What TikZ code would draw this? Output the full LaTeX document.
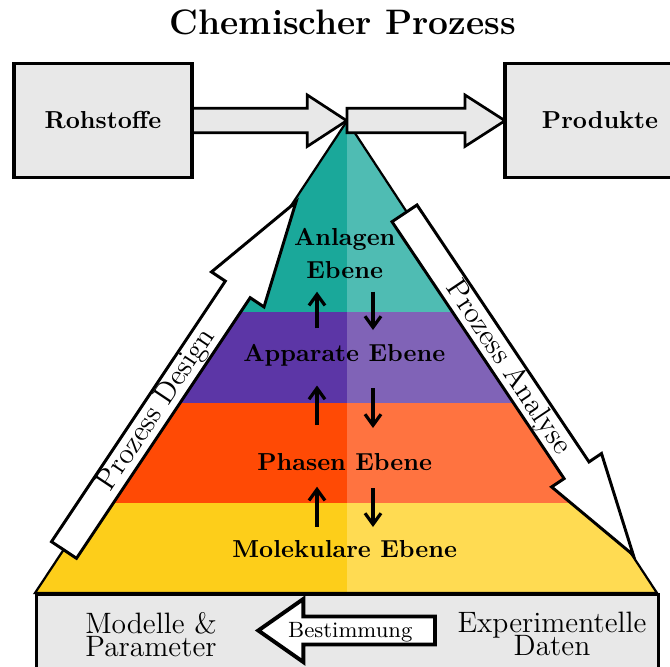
\documentclass[tikz,border=0pt]{standalone}
\usetikzlibrary{arrows.meta}
\definecolor{tealL}{HTML}{1AA89A}
\definecolor{tealR}{HTML}{4FBCB3}
\definecolor{purpL}{HTML}{5C36A6}
\definecolor{purpR}{HTML}{8063B7}
\definecolor{oranL}{HTML}{FF4A05}
\definecolor{oranR}{HTML}{FF7340}
\definecolor{yellL}{HTML}{FDCE1A}
\definecolor{yellR}{HTML}{FFDB52}
\definecolor{boxgray}{HTML}{E8E8E8}
\begin{document}
\begin{tikzpicture}[x=0.407pt,y=-0.407pt,
  boxnode/.style={draw=black, line width=1.3pt, fill=boxgray, font=\bfseries, inner sep=0pt},
  fatarrow/.style={draw=black, line width=1.1pt, fill=boxgray, line join=miter},
  sidearrow/.style={draw=black, line width=1.2pt, fill=white, line join=miter},
  lvl/.style={font=\bfseries, inner sep=0pt},
  lvlarrow/.style={line width=1.3pt, -{Straight Barb[length=4.5pt,width=6.5pt]}},
  sidelabel/.style={font=\large, inner sep=0pt},
  bottomlabel/.style={font={\fontsize{12}{9.5}\selectfont\lineskiplimit=-20pt}, align=center, inner sep=0pt},
]
\useasboundingbox (0,0) rectangle (670,666);

% title
\node[font=\Large\bfseries, inner sep=0pt] (title) at (343,22.5) {Chemischer Prozess};

% pyramid
\coordinate (apex) at (347,121);
\coordinate (bl) at (35,593);
\coordinate (br) at (657,593);
\begin{scope}
  \clip (apex) -- (bl) -- (br) -- cycle;
  \fill[tealL] (0,100) rectangle (347,312);
  \fill[tealR] (347,100) rectangle (700,312);
  \fill[purpL] (0,312) rectangle (347,403);
  \fill[purpR] (347,312) rectangle (700,403);
  \fill[oranL] (0,403) rectangle (347,503);
  \fill[oranR] (347,403) rectangle (700,503);
  \fill[yellL] (0,503) rectangle (347,600);
  \fill[yellR] (347,503) rectangle (700,600);
\end{scope}
\draw[line width=0.9pt, line join=miter] (apex) -- (bl) -- (br) -- cycle;

% side arrows
\draw[sidearrow] (51.5,541.7) -- (225.3,281.1) -- (211.5,271.9) -- (296,202)
  -- (264.0,306.9) -- (250.2,297.7) -- (76.5,558.3) -- cycle;
\draw[sidearrow] (392.0,221.7) -- (564.1,478.6) -- (551.6,486.9) -- (633.3,555)
  -- (601.5,453.5) -- (589.0,461.9) -- (417.0,205.0) -- cycle;
\node[sidelabel, rotate=56.3] (design) at (157.3,410) {Prozess Design};
\node[sidelabel, rotate=-56.2] (analyse) at (508,368) {Prozess Analyse};

% top arrows
\draw[fatarrow] (192,108.3) -- (307.3,108.3) -- (307.3,95) -- (346.7,120.7)
  -- (307.3,146.4) -- (307.3,132.7) -- (192,132.7) -- cycle;
\draw[fatarrow] (347,108.3) -- (465,108.3) -- (465,95) -- (505,120.7)
  -- (465,146.4) -- (465,132.7) -- (347,132.7) -- cycle;

% boxes
\node[boxnode, minimum width=72.4pt, minimum height=46.6pt] (roh) at (103,120.5) {Rohstoffe};
\node[boxnode, minimum width=77.3pt, minimum height=46.6pt] (prod) at (600,120.5) {Produkte};

% level labels
\node[lvl, align=center] (anlagen) at (344.7,253.5) {Anlagen\\[1.8pt]Ebene};
\node[lvl] (apparate) at (344.3,355.6) {Apparate Ebene};
\node[lvl] (phasen) at (344.7,462.2) {Phasen Ebene};
\node[lvl] (molekular) at (344.7,549.2) {Molekulare Ebene};

% level arrows
\coordinate (u1s) at (317,328.3); \coordinate (u1e) at (317,291.7);
\coordinate (u2s) at (317,425);   \coordinate (u2e) at (317,385.5);
\coordinate (u3s) at (317,526.7); \coordinate (u3e) at (317,486.7);
\coordinate (d1s) at (373,291.7); \coordinate (d1e) at (373,330);
\coordinate (d2s) at (373,388);   \coordinate (d2e) at (373,428);
\coordinate (d3s) at (373,488);   \coordinate (d3e) at (373,527);
\draw[lvlarrow] (u1s) -- (u1e);
\draw[lvlarrow] (u2s) -- (u2e);
\draw[lvlarrow] (u3s) -- (u3e);
\draw[lvlarrow] (d1s) -- (d1e);
\draw[lvlarrow] (d2s) -- (d2e);
\draw[lvlarrow] (d3s) -- (d3e);

% bottom box
\node[draw=black, line width=1.1pt, fill=boxgray, inner sep=0pt, anchor=north west,
  minimum width=253.2pt, minimum height=45pt] (basis) at (35,593) {};
\draw[draw=black, line width=1.6pt, fill=white, line join=miter]
  (435,616.5) -- (303.3,616.5) -- (303.3,599) -- (258.3,630.5) -- (303.3,662)
  -- (303.3,644.5) -- (435,644.5) -- cycle;
\node[font=\small, inner sep=0pt] (bestimmung) at (350.3,631.9) {Bestimmung};
\node[bottomlabel] (modelle) at (151,634.7) {Modelle \&\\Parameter};
\node[bottomlabel] (daten) at (552,634.1) {Experimentelle\\Daten};
\end{tikzpicture}
\end{document}
